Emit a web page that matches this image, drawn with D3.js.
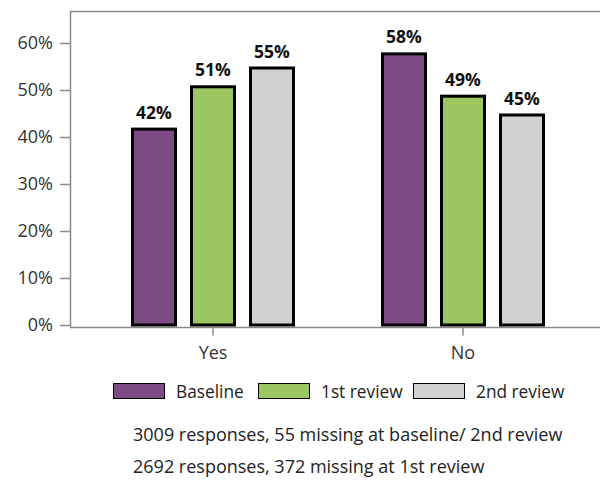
<!DOCTYPE html>
<html>
<head>
<meta charset="utf-8">
<script src="https://cdn.jsdelivr.net/npm/d3@7"></script>
<style>
  body { margin: 0; background: #fff; }
  text { font-family: "Open Sans", "DejaVu Sans", sans-serif; }
</style>
</head>
<body>
<svg id="chart"></svg>
<script>
// data
const categories = ['Yes', 'No'];
const series = ['Baseline', '1st review', '2nd review'];
const baseline = [0.42, 0.58];
const review1 = [0.51, 0.49];
const review2 = [0.55, 0.45];
const yTicks = [0, 0.1, 0.2, 0.3, 0.4, 0.5, 0.6];
const notes = [
  '3009 responses, 55 missing at baseline/ 2nd review',
  '2692 responses, 372 missing at 1st review'
];
const colors = ['#7e4a85', '#9bc662', '#d0d1d3'];

const width = 600, height = 484;
const font = '"Open Sans", "DejaVu Sans", sans-serif';
const svg = d3.select('#chart').attr('width', width).attr('height', height);

const x0 = d3.scaleBand().domain(categories).range([88, 588]);
const x1 = d3.scaleBand().domain(series).range([-82, 82]).paddingInner(13 / 59).paddingOuter(0);
const y = d3.scaleLinear().domain([0, 0.6]).range([325, 43]);
const color = d3.scaleOrdinal().domain(series).range(colors);

const values = [baseline, review1, review2];
const bars = [];
categories.forEach(function(c, i) {
  series.forEach(function(s, j) {
    bars.push({ cat: c, series: s, value: values[j][i] });
  });
});

// frame
svg.append('line').attr('x1', 70).attr('x2', width).attr('y1', 11.5).attr('y2', 11.5)
  .attr('stroke', '#8a8a8a').attr('stroke-width', 1.5);
svg.append('line').attr('x1', 70.5).attr('x2', 70.5).attr('y1', 11).attr('y2', 328)
  .attr('stroke', '#8a8a8a').attr('stroke-width', 1.5);

// y axis
const yAxis = svg.append('g')
  .attr('transform', 'translate(70,0)')
  .call(d3.axisLeft(y).tickValues(yTicks).tickFormat(d3.format('.0%')).tickSize(10).tickPadding(7));
yAxis.select('.domain').remove();
yAxis.selectAll('line').attr('stroke', '#8a8a8a').attr('stroke-width', 1.5);
yAxis.selectAll('text').attr('font-size', 18).attr('fill', '#333').style('font-family', font);

// x axis
const xAxis = svg.append('g')
  .attr('transform', 'translate(0,327.5)')
  .call(d3.axisBottom(x0).tickSize(8).tickPadding(11).tickSizeOuter(0));
xAxis.select('.domain').attr('d', 'M70,0H' + width).attr('stroke', '#8a8a8a').attr('stroke-width', 1.5);
xAxis.selectAll('line').attr('stroke', '#8a8a8a').attr('stroke-width', 1.5);
xAxis.selectAll('text').attr('font-size', 18).attr('fill', '#333').style('font-family', font);

// bars
svg.selectAll('.bar')
  .data(bars)
  .enter()
  .append('rect')
  .attr('class', 'bar')
  .attr('x', function(d) { return x0(d.cat) + x0.bandwidth() / 2 + x1(d.series) + 1.5; })
  .attr('y', function(d) { return y(d.value) + 1.5; })
  .attr('width', x1.bandwidth() - 3)
  .attr('height', function(d) { return y(0) - y(d.value) - 1.5; })
  .attr('fill', function(d) { return color(d.series); })
  .attr('stroke', '#000')
  .attr('stroke-width', 3);

svg.selectAll('.label')
  .data(bars)
  .enter()
  .append('text')
  .attr('class', 'label')
  .attr('x', function(d) { return x0(d.cat) + x0.bandwidth() / 2 + x1(d.series) + x1.bandwidth() / 2; })
  .attr('y', function(d) { return y(d.value) - 9; })
  .attr('text-anchor', 'middle')
  .attr('font-size', 17.5)
  .attr('font-weight', 'bold')
  .attr('fill', '#111')
  .text(function(d) { return d3.format('.0%')(d.value); });

// legend
const legendX = [113, 258, 413];
const legend = svg.selectAll('.legend')
  .data(series)
  .enter()
  .append('g')
  .attr('class', 'legend')
  .attr('transform', function(d, i) { return 'translate(' + legendX[i] + ',383)'; });
legend.append('rect')
  .attr('x', 0.5).attr('y', 0.5).attr('width', 51).attr('height', 15)
  .attr('fill', function(d) { return color(d); })
  .attr('stroke', '#000').attr('stroke-width', 1);
legend.append('text')
  .attr('x', 63).attr('y', 14.5)
  .attr('font-size', 17.3).attr('fill', '#222')
  .text(function(d) { return d; });

// notes
svg.selectAll('.note')
  .data(notes)
  .enter()
  .append('text')
  .attr('class', 'note')
  .attr('x', 133)
  .attr('y', function(d, i) { return 441 + i * 32; })
  .attr('font-size', 18).attr('fill', '#222')
  .text(function(d) { return d; });
</script>
</body>
</html>
